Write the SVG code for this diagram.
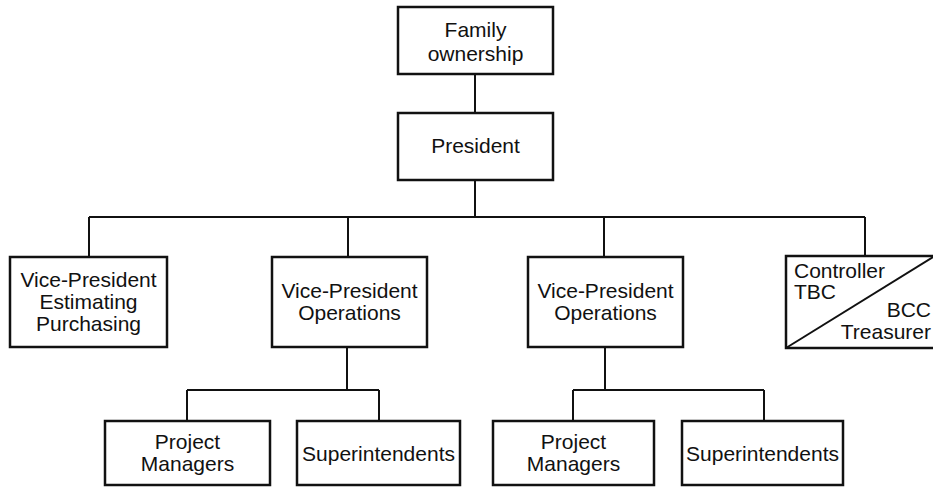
<svg xmlns="http://www.w3.org/2000/svg" width="933" height="488" viewBox="0 0 933 488">
<style>
.box{fill:#fff;stroke:#111;stroke-width:2.5}
.ln{fill:none;stroke:#111;stroke-width:2}
text{font-family:"Liberation Sans",Arial,sans-serif;font-size:21px;fill:#111;text-anchor:middle}
</style>
<rect width="933" height="488" fill="#fff"/>
<g id="connectors" class="ln">
<path d="M475 74V113M475 180V217M89 217H865M89 217V257M348 217V257M604 217V257M865 217V256"/>
<path d="M347 347V390M187 390H379M187 390V421M379 390V421"/>
<path d="M605 347V390M573 390H764M573 390V421M764 390V421"/>
</g>
<g id="family">
<rect class="box" x="398" y="7" width="155" height="67"/>
<text x="475.5" y="37">Family</text>
<text x="475.5" y="61">ownership</text>
</g>
<g id="president">
<rect class="box" x="398" y="113" width="155" height="67"/>
<text x="475.5" y="153">President</text>
</g>
<g id="vp-estimating">
<rect class="box" x="10" y="257" width="157" height="90"/>
<text x="88.5" y="287">Vice-President</text>
<text x="88.5" y="309">Estimating</text>
<text x="88.5" y="331">Purchasing</text>
</g>
<g id="vp-operations-1">
<rect class="box" x="272" y="257" width="155" height="90"/>
<text x="349.5" y="298">Vice-President</text>
<text x="349.5" y="320">Operations</text>
</g>
<g id="vp-operations-2">
<rect class="box" x="528" y="257" width="155" height="90"/>
<text x="605.5" y="298">Vice-President</text>
<text x="605.5" y="320">Operations</text>
</g>
<g id="controller-treasurer">
<path class="box" d="M935 256H786V348H935"/>
<path class="ln" d="M786 348L933 257"/>
<text x="794" y="278" style="text-anchor:start">Controller</text>
<text x="794" y="299" style="text-anchor:start">TBC</text>
<text x="931" y="317" style="text-anchor:end">BCC</text>
<text x="931" y="339" style="text-anchor:end">Treasurer</text>
</g>
<g id="project-managers-1">
<rect class="box" x="105" y="421" width="165" height="64"/>
<text x="187.5" y="449">Project</text>
<text x="187.5" y="471">Managers</text>
</g>
<g id="superintendents-1">
<rect class="box" x="297" y="421" width="163" height="64"/>
<text x="378.5" y="461">Superintendents</text>
</g>
<g id="project-managers-2">
<rect class="box" x="493" y="421" width="161" height="64"/>
<text x="573.5" y="449">Project</text>
<text x="573.5" y="471">Managers</text>
</g>
<g id="superintendents-2">
<rect class="box" x="682" y="421" width="161" height="64"/>
<text x="762.5" y="461">Superintendents</text>
</g>
</svg>
